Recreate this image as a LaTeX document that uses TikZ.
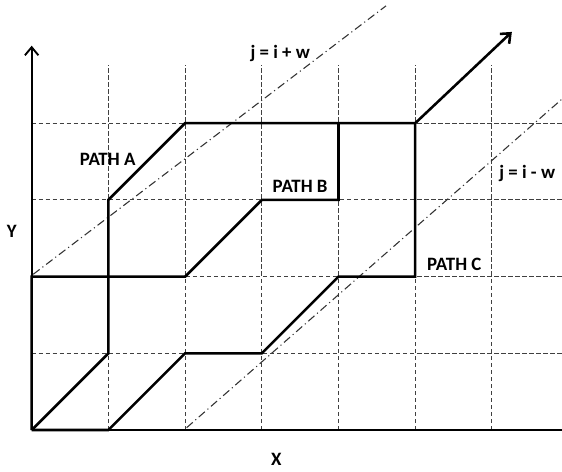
\documentclass[tikz,border=0pt]{standalone}
\usepackage{fontspec}
\setmainfont{Carlito}
\usetikzlibrary{arrows.meta}
\begin{document}
\begin{tikzpicture}[
  gridline/.style={black!75,line width=0.4pt,dash pattern=on 1.6pt off 1pt},
  bound/.style={black!80,line width=0.4pt,dash pattern=on 3pt off 1.3pt on 0.4pt off 1.3pt},
  axisline/.style={line width=0.7pt},
  pathline/.style={line width=0.95pt,line join=miter},
  lbl/.style={font=\bfseries\fontsize{7}{8}\selectfont,inner sep=0pt}
]
\useasboundingbox (-0.413,-0.535) rectangle (6.914,5.606);
% grid points
\foreach \i in {0,...,6} {\foreach \j in {0,...,4} {\coordinate (g\i\j) at (\i,\j);}}
\foreach \i in {1,...,6} {\coordinate (vt\i) at (\i,4.76);}
\foreach \j in {1,...,4} {\coordinate (hr\j) at (6.92,\j);}
% dashed grid
\foreach \i in {1,...,6} {\draw[gridline] (g\i0) -- (vt\i);}
\foreach \j in {1,...,4} {\draw[gridline] (g0\j) -- (hr\j);}
% bounds
\coordinate (bA1) at (0.02,2.03);
\coordinate (bA2) at (4.62,5.53);
\coordinate (bB1) at (2.02,0.03);
\coordinate (bB2) at (6.92,4.32);
\draw[bound] (bA1) -- (bA2);
\draw[bound] (bB1) -- (bB2);
% axes
\coordinate (ytop) at (0,5.01);
\coordinate (xend) at (6.92,0);
\draw[axisline,-{Straight Barb[length=3pt,width=5pt]}] (g00) -- (ytop);
\draw[axisline] (g00) -- (xend);
% paths
\coordinate (tipA) at (6.26,5.19);
\draw[pathline] (g00) -- (g11) -- (g13) -- (g24) -- (g54);
\draw[pathline,-{Straight Barb[length=3pt,width=5pt]}] (g54) -- (tipA);
\draw[pathline] (g00) -- (g02) -- (g12) -- (g22) -- (g33) -- (g43) -- (g44);
\draw[pathline] (g00) -- (g10) -- (g21) -- (g31) -- (g42) -- (g52) -- (g54);
% labels
\node[lbl] (la) at (0.99,3.53) {PATH A};
\node[lbl] (lb) at (3.5,3.18) {PATH B};
\node[lbl] (lc) at (5.51,2.16) {PATH C};
\node[lbl] (lup) at (3.24,4.91) {j = i + w};
\node[lbl] (llo) at (6.46,3.34) {j = i - w};
\node[lbl] (ly) at (-0.26,2.59) {Y};
\node[lbl] (lx) at (3.19,-0.38) {X};
\end{tikzpicture}
\end{document}
